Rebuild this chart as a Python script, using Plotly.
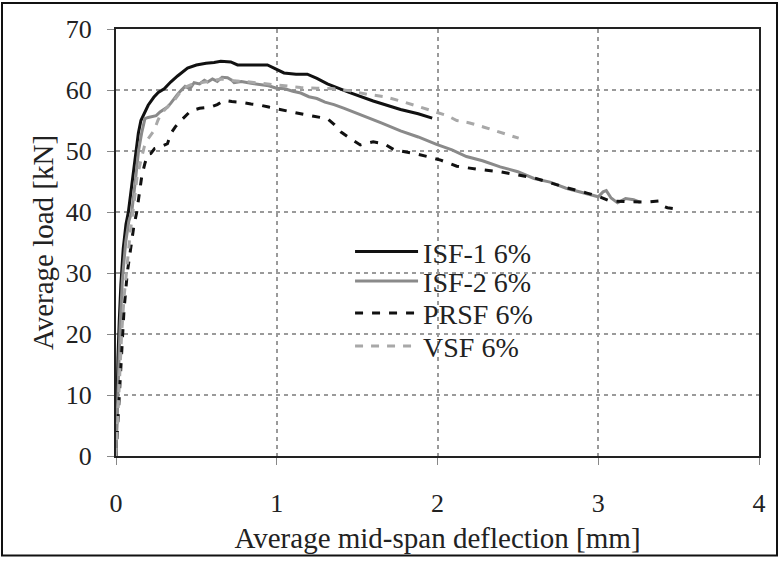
import plotly.graph_objects as go

# ---- data ----
isf1_x = [0, 0.005, 0.012, 0.02, 0.03, 0.045, 0.062, 0.077, 0.092, 0.108, 0.125, 0.139, 0.155, 0.17, 0.2,
          0.235, 0.263, 0.30, 0.34, 0.383, 0.445, 0.5, 0.56, 0.61, 0.652, 0.714, 0.756, 0.85, 0.942, 0.983,
          1.045, 1.12, 1.19, 1.25, 1.315, 1.45, 1.6, 1.77, 1.88, 1.967]
isf1_y = [0, 8, 16, 22, 28, 34, 38, 40, 43, 46.4, 50, 52.9, 55, 55.9, 57.5,
          58.8, 59.6, 60.2, 61.3, 62.3, 63.6, 64.1, 64.4, 64.5, 64.7, 64.6, 64.1, 64.1, 64.1, 63.6,
          62.8, 62.6, 62.6, 61.9, 61.0, 59.6, 58.2, 56.8, 56.1, 55.4]

isf2_x = [0, 0.006, 0.015, 0.025, 0.04, 0.06, 0.08, 0.098, 0.12, 0.14, 0.16, 0.18, 0.2, 0.222, 0.25, 0.274,
          0.3, 0.32, 0.34, 0.36, 0.38, 0.404, 0.43, 0.46, 0.486, 0.52, 0.55, 0.57, 0.6, 0.63, 0.66, 0.694,
          0.72, 0.735, 0.78, 0.84, 0.9, 0.95, 0.998, 1.05, 1.1, 1.149, 1.2, 1.25, 1.3, 1.356, 1.42, 1.5,
          1.563, 1.65, 1.77, 1.88, 1.994, 2.09, 2.18, 2.28, 2.39, 2.5, 2.6, 2.7, 2.8, 2.9, 2.96, 3.0, 3.03,
          3.05, 3.08, 3.12, 3.17, 3.22, 3.26]
isf2_y = [0, 6, 14, 21, 29, 35, 38.5, 40, 45, 50, 53, 55.3, 55.5, 55.6, 55.8, 56.4,
          56.9, 57.2, 57.8, 58.6, 59.2, 59.9, 60.6, 60.2, 61.2, 61.0, 61.6, 61.3, 61.8, 61.4, 62.1, 62.0,
          61.6, 61.2, 61.4, 61.1, 60.9, 60.7, 60.3, 60.2, 59.8, 59.5, 58.9, 58.6, 58.0, 57.6, 57.0, 56.2,
          55.5, 54.6, 53.3, 52.3, 51.1, 50.2, 49.1, 48.4, 47.4, 46.6, 45.5, 44.9, 43.9, 43.2, 42.7, 42.5, 43.3,
          43.5, 42.3, 41.5, 42.2, 42.0, 41.6]

prsf_x = [0, 0.01, 0.02, 0.035, 0.05, 0.07, 0.09, 0.11, 0.129, 0.145, 0.16, 0.18, 0.2, 0.217, 0.24, 0.27,
          0.3, 0.32, 0.342, 0.37, 0.404, 0.44, 0.466, 0.52, 0.59, 0.63, 0.673, 0.72, 0.776, 0.84, 0.9, 0.95,
          1.0, 1.07, 1.149, 1.23, 1.315, 1.36, 1.4, 1.46, 1.52, 1.6, 1.667, 1.73, 1.8, 1.87, 1.936, 2.02,
          2.12, 2.25, 2.39, 2.5, 2.6, 2.7, 2.8, 2.93, 3.0, 3.07, 3.15, 3.22, 3.3, 3.375, 3.4, 3.43, 3.49]
prsf_y = [0, 5, 11, 18, 24, 30, 34, 37.5, 40, 43, 45.8, 48, 49.5, 49.6, 50.4, 50.6,
          51.0, 51.2, 52.9, 54, 55.0, 56.0, 56.6, 57.0, 57.2, 57.6, 58.3, 58.1, 58.0, 57.7, 57.5, 57.2,
          56.9, 56.6, 56.1, 55.7, 55.3, 54.3, 53.1, 52.0, 51.0, 51.5, 51.2, 50.2, 49.9, 49.5, 49.1, 48.5,
          47.5, 47.0, 46.6, 46.1, 45.6, 44.8, 44.0, 43.1, 42.6, 41.8, 41.7, 41.6, 41.6, 41.8, 41.0, 40.7, 40.5]

vsf_x = [0, 0.01, 0.02, 0.035, 0.05, 0.07, 0.09, 0.11, 0.13, 0.155, 0.176, 0.2, 0.238, 0.26, 0.28, 0.32,
         0.362, 0.39, 0.424, 0.47, 0.528, 0.59, 0.652, 0.7, 0.735, 0.8, 0.87, 0.942, 1.0, 1.07, 1.149, 1.25,
         1.356, 1.45, 1.563, 1.67, 1.77, 1.88, 1.994, 2.06, 2.12, 2.2, 2.29, 2.4, 2.505]
vsf_y = [0, 6, 13, 20, 26, 32, 37, 41, 45.5, 48.5, 50.7, 52, 53.4, 55, 56.1, 57.2,
         58.3, 59.3, 60.4, 60.9, 61.2, 61.5, 61.8, 61.7, 61.5, 61.4, 61.2, 61.0, 60.8, 60.6, 60.4, 60.3,
         60.2, 59.9, 59.3, 58.9, 58.2, 57.3, 56.4, 55.8, 55.0, 54.6, 53.9, 53.0, 52.1]

series_names = ["ISF-1 6%", "ISF-2 6%", "PRSF 6%", "VSF 6%"]
x_ticks = [0, 1, 2, 3, 4]
y_ticks = [0, 10, 20, 30, 40, 50, 60, 70]

FONT = "Liberation Serif, Times New Roman, serif"

fig = go.Figure()
fig.add_trace(go.Scatter(x=isf1_x, y=isf1_y, mode="lines", name=series_names[0], legend="legend",
                         line=dict(color="#111111", width=3)))
fig.add_trace(go.Scatter(x=isf2_x, y=isf2_y, mode="lines", name=series_names[1], legend="legend2",
                         line=dict(color="#8a8a8a", width=3)))
fig.add_trace(go.Scatter(x=prsf_x, y=prsf_y, mode="lines", name=series_names[2], legend="legend3",
                         line=dict(color="#111111", width=3, dash="8px,9px")))
fig.add_trace(go.Scatter(x=vsf_x, y=vsf_y, mode="lines", name=series_names[3], legend="legend4",
                         line=dict(color="#a8a8a8", width=3, dash="8px,8px")))

axis_common = dict(
    showline=True, linecolor="#222222", linewidth=2, mirror=True,
    showgrid=True, gridcolor="#9a9a9a", gridwidth=2, griddash="4px,4px",
    zeroline=False, ticks="outside", ticklen=7, tickcolor="#888888", tickwidth=1,
    tickfont=dict(family=FONT, size=26, color="#222222"),
)

fig.update_xaxes(range=[0, 4], tickvals=x_ticks, ticktext=[str(v) for v in x_ticks],
                 ticklabelstandoff=16,
                 title=dict(text="Average mid-span deflection [mm]",
                            font=dict(family=FONT, size=29, color="#222222"), standoff=10),
                 **axis_common)
fig.update_yaxes(range=[0, 70], tickvals=y_ticks, ticktext=[str(v) for v in y_ticks],
                 ticklabelstandoff=10,
                 title=dict(text="Average load [kN]",
                            font=dict(family=FONT, size=29, color="#222222"), standoff=4),
                 **axis_common)

leg_common = dict(x=0.364, xanchor="left", yanchor="middle",
                  bgcolor="rgba(0,0,0,0)", borderwidth=0,
                  font=dict(family=FONT, size=28, color="#222222"),
                  itemwidth=63, tracegroupgap=0)

fig.update_layout(
    width=780, height=561,
    margin=dict(l=116, r=21, t=29, b=103),
    paper_bgcolor="white", plot_bgcolor="white",
    font=dict(family=FONT, color="#222222"),
    showlegend=True,
    legend=dict(y=0.478, **leg_common),
    legend2=dict(y=0.409, **leg_common),
    legend3=dict(y=0.334, **leg_common),
    legend4=dict(y=0.257, **leg_common),
    shapes=[dict(type="rect", xref="paper", yref="paper",
                 x0=-0.1773, x1=1.028, y0=-0.2331, y1=1.0606,
                 line=dict(color="#111111", width=2), layer="above")],
)

fig.write_html("out.html", config={"displayModeBar": False},
               post_script="document.body.style.margin='0px';")
